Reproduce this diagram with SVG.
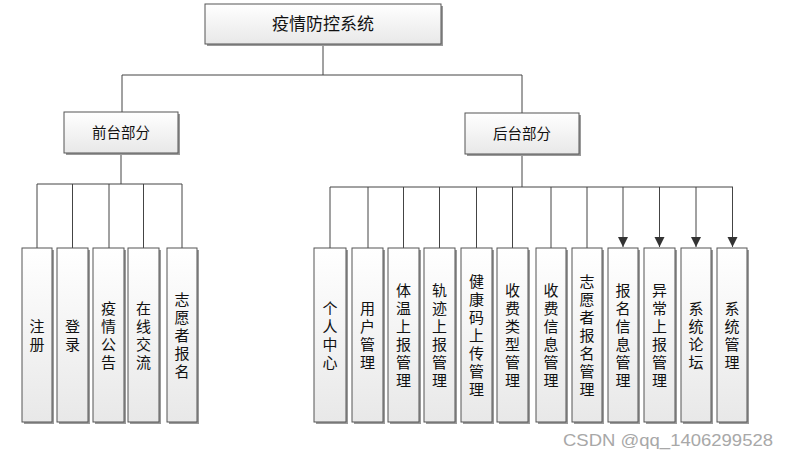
<svg xmlns="http://www.w3.org/2000/svg" width="788" height="459" viewBox="0 0 788 459">
<style>
.bx{fill:url(#g);stroke:#555;stroke-width:1}
.sh{fill:#9a9a9a}
.t{font-family:"Noto Sans CJK SC","Noto Sans CJK JP",sans-serif;fill:#111;text-anchor:middle}
.h{font-size:17px}
.m{font-size:14.5px}
.v{font-size:15px;writing-mode:vertical-rl;text-orientation:upright;letter-spacing:3px}
.c{fill:none;stroke:#444;stroke-width:1}
.wm{font-family:"Liberation Sans",Arial,sans-serif;font-size:17px;fill:#a8a8a8}
</style>
<defs>
<linearGradient id="g" x1="0" y1="0" x2="0" y2="1">
<stop offset="0" stop-color="#ffffff"/>
<stop offset="1" stop-color="#e8e8e8"/>
</linearGradient>
<marker id="ar" markerUnits="userSpaceOnUse" markerWidth="12" markerHeight="12" viewBox="0 0 12 12" refX="11" refY="6" orient="auto">
<path d="M1,1 L11,6 L1,11 Z" fill="#333"/>
</marker>
</defs>
<rect width="788" height="459" fill="#ffffff"/>

<g id="connectors">
<path class="c" d="M323,44 V75 M122,75 H522 M122,75 V112 M522,75 V113"/>
<path class="c" d="M121,153 V184 M37,184 H182 M37,184 V248 M72.5,184 V248 M109,184 V248 M143.5,184 V248 M182,184 V248"/>
<path class="c" d="M522,154 V187 M330,187 H733 M330,187 V248 M368,187 V248 M403.5,187 V248 M439.5,187 V248 M476.5,187 V248 M512.5,187 V248 M551,187 V248 M587,187 V248"/>
<path class="c" d="M623,187 V247" marker-end="url(#ar)"/>
<path class="c" d="M659.5,187 V247" marker-end="url(#ar)"/>
<path class="c" d="M696,187 V247" marker-end="url(#ar)"/>
<path class="c" d="M732.5,187 V247" marker-end="url(#ar)"/>
</g>

<g id="n_root">
<rect class="sh" x="207" y="6" width="236" height="40"/>
<rect class="bx" x="205" y="4" width="236" height="40"/>
<text class="t h" x="323" y="30">疫情防控系统</text>
</g>
<g id="n_front">
<rect class="sh" x="66" y="114" width="114" height="41"/>
<rect class="bx" x="64" y="112" width="114" height="41"/>
<text class="t m" x="121" y="138">前台部分</text>
</g>
<g id="n_back">
<rect class="sh" x="467" y="115" width="114" height="41"/>
<rect class="bx" x="465" y="113" width="114" height="41"/>
<text class="t m" x="522" y="139">后台部分</text>
</g>

<g id="n_zhuce">
<rect class="sh" x="24" y="250" width="30" height="174"/>
<rect class="bx" x="22" y="248" width="30" height="174"/>
<text class="t v" x="37" y="337">注册</text>
</g>
<g id="n_denglu">
<rect class="sh" x="59" y="250" width="31" height="174"/>
<rect class="bx" x="57" y="248" width="31" height="174"/>
<text class="t v" x="72.5" y="337">登录</text>
</g>
<g id="n_yqgg">
<rect class="sh" x="95" y="250" width="31" height="174"/>
<rect class="bx" x="93" y="248" width="31" height="174"/>
<text class="t v" x="108.5" y="337">疫情公告</text>
</g>
<g id="n_zxjl">
<rect class="sh" x="130" y="250" width="31" height="174"/>
<rect class="bx" x="128" y="248" width="31" height="174"/>
<text class="t v" x="143.5" y="337">在线交流</text>
</g>
<g id="n_zyzbm">
<rect class="sh" x="169" y="250" width="30" height="174"/>
<rect class="bx" x="167" y="248" width="30" height="174"/>
<text class="t v" x="182" y="337">志愿者报名</text>
</g>

<g id="n_grzx">
<rect class="sh" x="316" y="250" width="32" height="174"/>
<rect class="bx" x="314" y="248" width="32" height="174"/>
<text class="t v" x="330" y="337">个人中心</text>
</g>
<g id="n_yhgl">
<rect class="sh" x="354" y="250" width="31" height="174"/>
<rect class="bx" x="352" y="248" width="31" height="174"/>
<text class="t v" x="367.5" y="337">用户管理</text>
</g>
<g id="n_twsb">
<rect class="sh" x="390" y="250" width="31" height="174"/>
<rect class="bx" x="388" y="248" width="31" height="174"/>
<text class="t v" x="403.5" y="337">体温上报管理</text>
</g>
<g id="n_gjsb">
<rect class="sh" x="426" y="250" width="31" height="174"/>
<rect class="bx" x="424" y="248" width="31" height="174"/>
<text class="t v" x="439.5" y="337">轨迹上报管理</text>
</g>
<g id="n_jkm">
<rect class="sh" x="463" y="250" width="31" height="174"/>
<rect class="bx" x="461" y="248" width="31" height="174"/>
<text class="t v" x="476.5" y="337">健康码上传管理</text>
</g>
<g id="n_sflx">
<rect class="sh" x="499" y="250" width="31" height="174"/>
<rect class="bx" x="497" y="248" width="31" height="174"/>
<text class="t v" x="512.5" y="337">收费类型管理</text>
</g>
<g id="n_sfxx">
<rect class="sh" x="538" y="250" width="30" height="174"/>
<rect class="bx" x="536" y="248" width="30" height="174"/>
<text class="t v" x="551" y="337">收费信息管理</text>
</g>
<g id="n_zyzgl">
<rect class="sh" x="574" y="250" width="30" height="174"/>
<rect class="bx" x="572" y="248" width="30" height="174"/>
<text class="t v" x="587" y="337">志愿者报名管理</text>
</g>
<g id="n_bmxx">
<rect class="sh" x="610" y="250" width="30" height="174"/>
<rect class="bx" x="608" y="248" width="30" height="174"/>
<text class="t v" x="623" y="337">报名信息管理</text>
</g>
<g id="n_ycsb">
<rect class="sh" x="646" y="250" width="31" height="174"/>
<rect class="bx" x="644" y="248" width="31" height="174"/>
<text class="t v" x="659.5" y="337">异常上报管理</text>
</g>
<g id="n_xtlt">
<rect class="sh" x="683" y="250" width="30" height="174"/>
<rect class="bx" x="681" y="248" width="30" height="174"/>
<text class="t v" x="696" y="337">系统论坛</text>
</g>
<g id="n_xtgl">
<rect class="sh" x="719" y="250" width="30" height="174"/>
<rect class="bx" x="717" y="248" width="30" height="174"/>
<text class="t v" x="732" y="337">系统管理</text>
</g>

<text class="wm" x="563" y="446" textLength="210" lengthAdjust="spacingAndGlyphs">CSDN @qq_1406299528</text>
</svg>
